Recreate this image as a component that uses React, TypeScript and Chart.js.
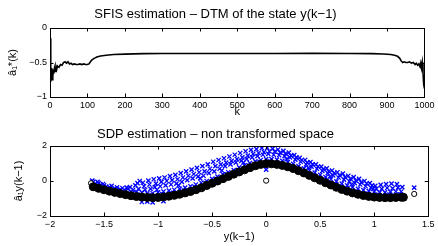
import React, { useEffect, useRef } from 'react';
import { Chart, registerables } from 'chart.js';

Chart.register(...registerables);

const FONT = "'Liberation Sans', Arial, Helvetica, sans-serif";

// ---------- Top plot: SFIS estimation ----------
const topTitle = 'SFIS estimation \u2013 DTM of the state y(k\u22121)';
const topXLabel = 'k';
const topYLabel = '\u00e2\u2081*(k)';
const kValues = [
  1, 2, 3, 4, 5, 6, 7, 8, 9, 10, 12, 14, 16, 18, 20, 24, 28, 32, 36, 40, 44, 48, 52, 56, 60, 65, 70, 75, 80, 85,
  90, 95, 100, 104, 108, 112, 118, 125, 135, 150, 170, 200, 250, 300, 400, 500, 600, 700, 800, 860, 890, 910,
  920, 928, 934, 938, 942, 946, 950, 955, 960, 965, 970, 975, 978, 982, 985, 988, 990, 992, 994, 996, 998, 1000,
];
const aHatValues = [
  -0.15, -0.78, -0.6, -0.72, -0.58, -0.75, -0.62, -0.7, -0.6, -0.66, -0.58, -0.63, -0.56, -0.6, -0.55, -0.57,
  -0.53, -0.54, -0.5, -0.49, -0.51, -0.49, -0.52, -0.51, -0.53, -0.52, -0.53, -0.53, -0.52, -0.53, -0.52, -0.53,
  -0.53, -0.52, -0.49, -0.46, -0.44, -0.42, -0.405, -0.395, -0.385, -0.378, -0.372, -0.37, -0.37, -0.37, -0.37,
  -0.368, -0.37, -0.372, -0.377, -0.385, -0.395, -0.41, -0.44, -0.48, -0.5, -0.49, -0.5, -0.5, -0.49, -0.51,
  -0.5, -0.53, -0.51, -0.54, -0.52, -0.56, -0.51, -0.58, -0.5, -0.65, -0.82, -0.88,
];

// ---------- Bottom plot: SDP estimation ----------
const bottomTitle = 'SDP estimation \u2013 non transformed space';
const bottomXLabel = 'y(k\u22121)';
const bottomYLabel = '\u00e2\u2081y(k\u22121)';

// black circles (SDP estimate band)
const blackX = [
  -1.6, -1.55, -1.5, -1.45, -1.4, -1.35, -1.3, -1.25, -1.2, -1.15, -1.1, -1.05, -1.0, -0.95, -0.9, -0.85, -0.8,
  -0.75, -0.7, -0.65, -0.6, -0.55, -0.5, -0.45, -0.4, -0.35, -0.3, -0.25, -0.2, -0.15, -0.1, -0.05, 0.0, 0.05,
  0.1, 0.15, 0.2, 0.25, 0.3, 0.35, 0.4, 0.45, 0.5, 0.55, 0.6, 0.65, 0.7, 0.75, 0.8, 0.85, 0.9, 0.95, 1.0, 1.05,
  1.1, 1.15, 1.2, 1.25, 1.27,
];
const blackY = [
  -0.33, -0.42, -0.5, -0.58, -0.65, -0.72, -0.78, -0.84, -0.89, -0.92, -0.94, -0.95, -0.94, -0.91, -0.87, -0.82,
  -0.76, -0.68, -0.6, -0.5, -0.39, -0.26, -0.13, 0.0, 0.13, 0.26, 0.39, 0.52, 0.64, 0.76, 0.87, 0.95, 0.99, 0.98,
  0.95, 0.89, 0.81, 0.71, 0.59, 0.46, 0.32, 0.18, 0.04, -0.1, -0.23, -0.36, -0.48, -0.58, -0.68, -0.76, -0.83,
  -0.88, -0.92, -0.94, -0.95, -0.95, -0.94, -0.93, -0.93,
];
// isolated black circles
const outlierX = [-1.62, 0.0, 1.37];
const outlierY = [-0.13, 0.02, -0.74];

// blue crosses (true values)
const bluePoints: [number, number][] = [
  [-1.6, -0.05], [-1.58, -0.15], [-1.61, 0.02],
  [-1.55, -0.12], [-1.53, -0.22], [-1.56, -0.05],
  [-1.5, -0.25], [-1.48, -0.32], [-1.51, -0.17],
  [-1.45, -0.35], [-1.43, -0.28], [-1.46, -0.42],
  [-1.4, -0.42], [-1.38, -0.36], [-1.41, -0.5],
  [-1.35, -0.48], [-1.33, -0.4], [-1.36, -0.56],
  [-1.3, -0.55], [-1.28, -0.45], [-1.31, -0.62], [-1.29, -0.38],
  [-1.25, -0.6], [-1.23, -0.5], [-1.26, -0.35], [-1.24, -0.68],
  [-1.2, -0.62], [-1.18, -0.45], [-1.21, -0.25], [-1.19, -0.12], [-1.17, 0.0],
  [-1.15, -0.65], [-1.13, -0.3], [-1.14, -0.1], [-1.12, -0.5],
  [-1.1, -0.7], [-1.08, -0.2], [-1.09, 0.02], [-1.07, -0.45],
  [-1.05, -0.7], [-1.03, -0.35], [-1.04, 0.1], [-1.02, -0.15],
  [-1.0, -0.65], [-0.98, -0.3], [-0.99, 0.15], [-0.97, -0.05],
  [-0.95, -0.6], [-0.93, -0.25], [-0.94, 0.2], [-0.92, 0.0],
  [-0.9, -0.55], [-0.88, -0.2], [-0.89, 0.28], [-0.87, 0.05],
  [-0.85, -0.5], [-0.83, -0.15], [-0.84, 0.35], [-0.82, 0.1],
  [-0.8, -0.45], [-0.78, -0.05], [-0.79, 0.45], [-0.77, 0.2],
  [-0.75, -0.38], [-0.73, 0.05], [-0.74, 0.55], [-0.72, 0.3],
  [-0.7, -0.3], [-0.68, 0.15], [-0.69, 0.65], [-0.67, 0.4],
  [-0.65, -0.2], [-0.63, 0.25], [-0.64, 0.75], [-0.62, 0.5],
  [-0.6, -0.1], [-0.58, 0.3], [-0.59, 0.85], [-0.57, 0.55],
  [-0.55, 0.0], [-0.53, 0.45], [-0.54, 0.95], [-0.52, 0.7],
  [-0.5, 0.12], [-0.48, 0.55], [-0.49, 1.1], [-0.47, 0.85],
  [-0.45, 0.25], [-0.43, 0.7], [-0.44, 1.2], [-0.42, 0.95],
  [-0.4, 0.38], [-0.38, 0.85], [-0.39, 1.3], [-0.37, 1.05],
  [-0.35, 0.5], [-0.33, 0.95], [-0.34, 1.4], [-0.32, 1.15],
  [-0.3, 0.62], [-0.28, 1.05], [-0.29, 1.5], [-0.27, 1.25],
  [-0.25, 0.78], [-0.23, 1.15], [-0.24, 1.6], [-0.22, 1.35],
  [-0.2, 0.9], [-0.18, 1.25], [-0.19, 1.7], [-0.17, 1.45],
  [-0.15, 1.02], [-0.13, 1.35], [-0.14, 1.78], [-0.12, 1.55],
  [-0.1, 1.12], [-0.08, 1.42], [-0.09, 1.82], [-0.07, 1.6],
  [-0.05, 1.2], [-0.03, 1.5], [-0.04, 1.88], [-0.02, 1.65],
  [0.0, 1.25], [0.02, 1.55], [0.01, 1.9], [0.03, 1.7], [0.0, 0.65],
  [0.05, 1.25], [0.07, 1.5], [0.06, 1.85], [0.08, 1.68],
  [0.1, 1.22], [0.12, 1.48], [0.11, 1.8], [0.13, 1.62],
  [0.15, 1.15], [0.17, 1.42], [0.16, 1.72], [0.18, 1.55],
  [0.2, 1.08], [0.22, 1.35], [0.21, 1.62], [0.23, 1.45],
  [0.25, 0.98], [0.27, 1.22], [0.26, 1.48], [0.28, 1.35],
  [0.3, 0.85], [0.32, 1.1], [0.31, 1.32], [0.33, 1.2],
  [0.35, 0.72], [0.37, 0.95], [0.36, 1.2], [0.38, 1.05],
  [0.4, 0.6], [0.42, 0.82], [0.41, 1.08], [0.43, 0.95],
  [0.45, 0.48], [0.47, 0.7], [0.46, 0.95], [0.48, 0.82],
  [0.5, 0.35], [0.52, 0.58], [0.51, 0.82], [0.53, 0.68],
  [0.55, 0.22], [0.57, 0.45], [0.56, 0.72], [0.58, 0.55],
  [0.6, 0.1], [0.62, 0.32], [0.61, 0.6], [0.63, 0.45],
  [0.65, -0.02], [0.67, 0.2], [0.66, 0.5], [0.68, 0.32],
  [0.7, -0.15], [0.72, 0.08], [0.71, 0.42], [0.73, 0.22],
  [0.75, -0.25], [0.77, -0.02], [0.76, 0.3], [0.78, 0.12],
  [0.8, -0.35], [0.82, -0.12], [0.81, 0.22], [0.83, 0.02],
  [0.85, -0.45], [0.87, -0.2], [0.86, 0.12], [0.88, -0.08],
  [0.9, -0.52], [0.92, -0.3], [0.91, 0.0], [0.93, -0.15],
  [0.95, -0.58], [0.97, -0.38], [0.96, -0.12], [0.98, -0.25],
  [1.0, -0.62], [1.02, -0.45], [1.01, -0.28],
  [1.05, -0.65], [1.07, -0.45], [1.06, -0.22],
  [1.1, -0.65], [1.12, -0.4], [1.11, -0.18],
  [1.15, -0.62], [1.17, -0.42], [1.16, -0.15],
  [1.2, -0.6], [1.22, -0.38], [1.21, -0.18],
  [1.25, -0.6], [1.26, -0.35],
  [1.37, -0.38],
  [-1.15, -1.2], [-1.05, -1.22], [-0.95, -1.15], [-1.1, -1.18],
  // extra dense crosses close to the band
  [-1.57, -0.3], [-1.47, -0.45], [-1.37, -0.62], [-1.27, -0.72], [-1.16, -0.78], [-1.06, -0.8],
  [-0.96, -0.75], [-0.86, -0.68], [-0.76, -0.55], [-0.66, -0.35], [-0.56, -0.12], [-0.46, 0.12],
  [-0.36, 0.38], [-0.26, 0.62], [-0.16, 0.88], [-0.06, 1.08], [0.04, 1.12], [0.14, 1.02],
  [0.24, 0.85], [0.34, 0.62], [0.44, 0.36], [0.54, 0.08], [0.64, -0.18], [0.74, -0.4],
  [0.84, -0.6], [0.94, -0.72], [1.04, -0.78], [1.14, -0.78], [1.24, -0.76],
  [-0.61, 0.15], [-0.41, 0.6], [-0.21, 1.05], [0.19, 1.25], [0.39, 0.75], [0.59, 0.25],
  [-0.81, -0.25], [-1.01, -0.5], [0.79, -0.2], [0.99, -0.45],
];

const fmt = (v: number | string) => String(Number(v)).replace('-', '\u2212');

// draws MATLAB style box with inward ticks on all four sides
const matlabAxes = {
  id: 'matlabAxes',
  afterDraw(chart: any) {
    const { ctx, chartArea } = chart;
    const { left, right, top, bottom } = chartArea;
    const xs = chart.scales.x;
    const ys = chart.scales.y;
    const tl = 3.5;
    ctx.save();
    ctx.strokeStyle = '#000';
    ctx.lineWidth = 1;
    ctx.beginPath();
    xs.ticks.forEach((t: any) => {
      const px = Math.round(xs.getPixelForValue(t.value)) + 0.5;
      ctx.moveTo(px, bottom);
      ctx.lineTo(px, bottom - tl);
      ctx.moveTo(px, top);
      ctx.lineTo(px, top + tl);
    });
    ys.ticks.forEach((t: any) => {
      const py = Math.round(ys.getPixelForValue(t.value)) + 0.5;
      ctx.moveTo(left, py);
      ctx.lineTo(left + tl, py);
      ctx.moveTo(right, py);
      ctx.lineTo(right - tl, py);
    });
    ctx.stroke();
    ctx.strokeRect(Math.round(left) + 0.5, Math.round(top) + 0.5, Math.round(right - left), Math.round(bottom - top));
    ctx.restore();
  },
};

function baseScales(opts: {
  xmin: number; xmax: number; xstep: number; ymin: number; ymax: number; ystep: number;
  xHeight: number; xTitle: string; yTitle: string; xTitlePadBottom: number; yTitlePadTop: number;
}) {
  return {
    x: {
      type: 'linear' as const,
      min: opts.xmin,
      max: opts.xmax,
      grid: { display: false, drawTicks: false },
      border: { display: false },
      ticks: {
        stepSize: opts.xstep,
        autoSkip: false,
        maxRotation: 0,
        padding: 3.5,
        color: '#000',
        font: { family: FONT, size: 9, lineHeight: 1.2 },
        callback: (v: any) => fmt(v),
      },
      title: {
        display: true,
        text: opts.xTitle,
        color: '#000',
        font: { family: FONT, size: 11, lineHeight: 1.2 },
        padding: { top: 0, bottom: opts.xTitlePadBottom },
      },
      afterFit: (s: any) => { s.height = opts.xHeight; },
    },
    y: {
      type: 'linear' as const,
      min: opts.ymin,
      max: opts.ymax,
      grid: { display: false, drawTicks: false },
      border: { display: false },
      ticks: {
        stepSize: opts.ystep,
        autoSkip: false,
        padding: 3,
        color: '#000',
        font: { family: FONT, size: 9, lineHeight: 1.2 },
        callback: (v: any) => fmt(v),
      },
      title: {
        display: true,
        text: opts.yTitle,
        color: '#000',
        font: { family: FONT, size: 11, lineHeight: 1.2 },
        padding: { top: opts.yTitlePadTop, bottom: 0 },
      },
      afterFit: (s: any) => { s.width = 50; },
    },
  };
}

function TopChart() {
  const ref = useRef<HTMLCanvasElement>(null);
  useEffect(() => {
    if (!ref.current) return;
    const chart = new Chart(ref.current, {
      type: 'line',
      data: {
        datasets: [
          {
            data: kValues.map((k, i) => ({ x: k, y: aHatValues[i] })),
            borderColor: '#000',
            borderWidth: 1.6,
            pointRadius: 0,
            fill: false,
            tension: 0,
          },
        ],
      },
      options: {
        responsive: false,
        animation: false,
        devicePixelRatio: 1,
        layout: { padding: { left: 0, right: 7, top: 0, bottom: 0 } },
        plugins: {
          legend: { display: false },
          tooltip: { enabled: false },
          title: {
            display: true,
            text: topTitle,
            color: '#000',
            font: { family: FONT, size: 13, weight: 'normal', lineHeight: 1.2 },
            padding: { top: 7, bottom: 5.4 },
          },
        },
        scales: baseScales({
          xmin: 0, xmax: 1000, xstep: 100, ymin: -1, ymax: 0, ystep: 0.5,
          xHeight: 26, xTitle: topXLabel, yTitle: topYLabel, xTitlePadBottom: 4, yTitlePadTop: 6,
        }) as any,
      },
      plugins: [matlabAxes],
    });
    return () => chart.destroy();
  }, []);
  return <canvas ref={ref} width={438} height={123} style={{ display: 'block', width: 438, height: 123 }} />;
}

function BottomChart() {
  const ref = useRef<HTMLCanvasElement>(null);
  useEffect(() => {
    if (!ref.current) return;
    const chart = new Chart(ref.current, {
      type: 'scatter',
      data: {
        datasets: [
          {
            data: blackX.map((x, i) => ({ x, y: blackY[i] })),
            pointStyle: 'circle',
            pointRadius: 4,
            pointBackgroundColor: '#000',
            pointBorderColor: '#000',
            pointBorderWidth: 1,
          },
          {
            data: outlierX.map((x, i) => ({ x, y: outlierY[i] })),
            pointStyle: 'circle',
            pointRadius: 2.6,
            pointBackgroundColor: '#fff',
            pointBorderColor: '#000',
            pointBorderWidth: 1,
          },
          {
            data: bluePoints.map(([x, y]) => ({ x, y })),
            pointStyle: 'crossRot',
            pointRadius: 3,
            pointBorderColor: '#0000ff',
            pointBackgroundColor: '#0000ff',
            pointBorderWidth: 1.3,
          },
        ],
      },
      options: {
        responsive: false,
        animation: false,
        devicePixelRatio: 1,
        layout: { padding: { left: 0, right: 7, top: 0, bottom: 0 } },
        plugins: {
          legend: { display: false },
          tooltip: { enabled: false },
          title: {
            display: true,
            text: bottomTitle,
            color: '#000',
            font: { family: FONT, size: 13, weight: 'normal', lineHeight: 1.2 },
            padding: { top: 3.2, bottom: 4.2 },
          },
        },
        scales: baseScales({
          xmin: -2, xmax: 1.5, xstep: 0.5, ymin: -2, ymax: 2, ystep: 2,
          xHeight: 30, xTitle: bottomXLabel, yTitle: bottomYLabel, xTitlePadBottom: 2.7, yTitlePadTop: 12,
        }) as any,
      },
      plugins: [matlabAxes],
    });
    return () => chart.destroy();
  }, []);
  return <canvas ref={ref} width={438} height={123} style={{ display: 'block', width: 438, height: 123 }} />;
}

export default function App() {
  return (
    <div style={{ position: 'fixed', left: 0, top: 0, width: 438, height: 246, background: '#fff' }}>
      <TopChart />
      <BottomChart />
    </div>
  );
}
